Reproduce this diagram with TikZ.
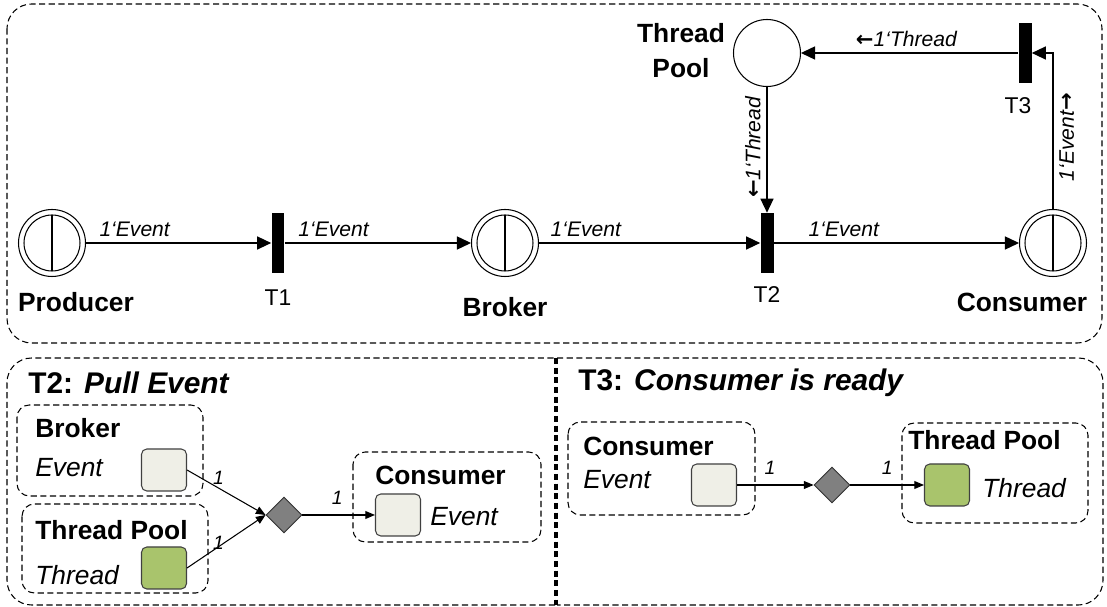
\documentclass[tikz,border=0pt]{standalone}
\usepackage{fontspec}
\setmainfont{Liberation Sans}
\newfontfamily\arrowfont{DejaVu Sans}
\usetikzlibrary{arrows.meta,positioning,calc,shapes.geometric}
\definecolor{tokgray}{RGB}{239,239,231}
\definecolor{tokgreen}{RGB}{169,196,108}
\definecolor{diagray}{RGB}{128,128,128}
\newcommand{\larr}{{\arrowfont\bfseries\upshape ←}}
\newcommand{\rarr}{{\arrowfont\bfseries\upshape →}}

\begin{document}
\begin{tikzpicture}[x=0.02cm, y=-0.02cm,
  place/.style={circle, draw, minimum size=1.34cm, inner sep=0pt,
                line width=0.6pt},
  store/.style={place, path picture={
      \draw[line width=0.6pt] (path picture bounding box.center) circle (0.56cm);
      \draw[line width=0.6pt] ($(path picture bounding box.center)+(0,0.56cm)$)
        -- ($(path picture bounding box.center)-(0,0.56cm)$);}},
  trans/.style={rectangle, fill=black, minimum width=0.26cm,
                minimum height=1.2cm, inner sep=0pt},
  plbl/.style={font=\fontsize{15}{20}\selectfont\bfseries, inner sep=0pt},
  tlbl/.style={font=\fontsize{13}{15}\selectfont, inner sep=0pt},
  insc/.style={font=\fontsize{12}{14}\selectfont\itshape},
  mult/.style={font=\fontsize{11}{13}\selectfont\itshape, inner sep=1.5pt},
  title/.style={font=\fontsize{17}{20}\selectfont\bfseries, anchor=west,
                inner sep=0pt},
  gname/.style={plbl, anchor=west},
  typ/.style={font=\fontsize{15}{18}\selectfont\itshape, anchor=west,
              inner sep=0pt},
  token/.style={draw=black!75, rounded corners=3pt, minimum width=0.9cm,
                minimum height=0.84cm, inner sep=0pt, line width=0.6pt},
  guard/.style={diamond, draw=black!80, fill=diagray, minimum width=0.72cm,
                minimum height=0.72cm, inner sep=0pt, line width=0.5pt},
  frame/.style={dash pattern=on 3.5pt off 2pt, line width=0.6pt},
  grp/.style={dash pattern=on 3.5pt off 2pt, line width=0.6pt,
              rounded corners=7pt},
  flow/.style={-{Triangle[length=8pt,width=7.5pt]}, line width=0.6pt},
  smallflow/.style={-{Triangle[length=5.5pt,width=4.5pt]}, line width=0.6pt}
]
\useasboundingbox (0,0) rectangle (1107,607);

% Net
\draw[frame, rounded corners=14pt] (7,4) rectangle (1102,343);
\node[store] (prod) at (52,243) {};
\node[trans] (t1) at (278,243) {};
\node[store] (brk) at (505,243) {};
\node[trans] (t2) at (767,243) {};
\node[store] (cons) at (1053,243) {};
\node[place] (pool) at (767,53) {};
\node[trans] (t3) at (1025,53) {};

\node[plbl] (prodl) at (76,302) {Producer};
\node[tlbl] (t1l) at (278,298) {T1};
\node[plbl] (brkl) at (505,307) {Broker};
\node[tlbl] (t2l) at (767,295) {T2};
\node[plbl] (consl) at (1022,302) {Consumer};
\node[tlbl] (t3l) at (1018,106) {T3};
\node[plbl, align=center] (pooll) at (681,51) {Thread\\Pool};

% Arcs
\draw[flow] (prod) -- (t1)
  node[insc, pos=0.07, above right, inner xsep=0pt] {1‘Event};
\draw[flow] (t1) -- (brk)
  node[insc, pos=0.07, above right, inner xsep=0pt] {1‘Event};
\draw[flow] (brk) -- (t2)
  node[insc, pos=0.05, above right, inner xsep=0pt] {1‘Event};
\draw[flow] (t2) -- (cons)
  node[insc, pos=0.14, above right, inner xsep=0pt] {1‘Event};
\draw[flow] (pool) -- (t2)
  node[insc, pos=0.48, rotate=90, anchor=south] {\larr1‘Thread};
\draw[flow] (cons.north) |- (t3.east)
  node[insc, pos=0.23, rotate=90, anchor=north] {1‘Event\rarr};
\draw[flow] (t3) -- (pool)
  node[insc, pos=0.28, above left, inner xsep=0pt] {\larr1‘Thread};

% T2: Pull Event
\draw[frame, rounded corners=14pt] (555,605) -- (7,605) -- (7,358) -- (555,358);
\draw[frame] (555,358) -- (555,605);
\node[title] (t2t) at (28,383) {T2: \textit{Pull Event}};

\draw[grp] (17,405) rectangle (203,496);
\node[gname] (bbrk) at (35,428) {Broker};
\node[typ] (bbrkt) at (35,468) {Event};
\node[token, fill=tokgray] (bt) at (164,470) {};

\draw[grp] (22,504) rectangle (208,593);
\node[gname] (bpool) at (35,530) {Thread Pool};
\node[typ] (bpoolt) at (35,575) {Thread};
\node[token, fill=tokgreen] (gt) at (164,568) {};

\draw[grp] (353,452) rectangle (541,542);
\node[gname] (bcons) at (375,475) {Consumer};
\node[typ] (bconst) at (430,517) {Event};
\node[token, fill=tokgray] (ct) at (398,515) {};

\node[guard] (d1) at (284,515) {};
\draw[smallflow] (bt.east) -- (d1.west) node[mult, pos=0.4, above] {1};
\draw[smallflow] (gt.east) -- (d1.west) node[mult, pos=0.4, yshift=2pt] {1};
\draw[smallflow] (d1.east) -- (ct.west) node[mult, pos=0.48, above=4pt] {1};

% T3: Consumer is ready
\draw[frame, rounded corners=14pt] (557,358) -- (1103,358) -- (1103,605) -- (557,605);
\draw[frame] (557,358) -- (557,605);
\node[title] (t3t) at (578,383) {T3: \textit{Consumer is ready}};

\draw[grp] (568,422) rectangle (755,515);
\node[gname] (rcons) at (583,446) {Consumer};
\node[typ] (rconst) at (583,480) {Event};
\node[token, fill=tokgray] (ct2) at (714,485) {};

\draw[grp] (902,423) rectangle (1088,523);
\node[gname] (rpool) at (908,440) {Thread Pool};
\node[typ] (rpoolt) at (982,488) {Thread};
\node[token, fill=tokgreen] (gt2) at (947,485) {};

\node[guard] (d2) at (832,485) {};
\draw[smallflow] (ct2.east) -- (d2.west) node[mult, pos=0.43, above=4pt] {1};
\draw[smallflow] (d2.east) -- (gt2.west) node[mult, pos=0.5, above=4pt] {1};
\end{tikzpicture}
\end{document}
